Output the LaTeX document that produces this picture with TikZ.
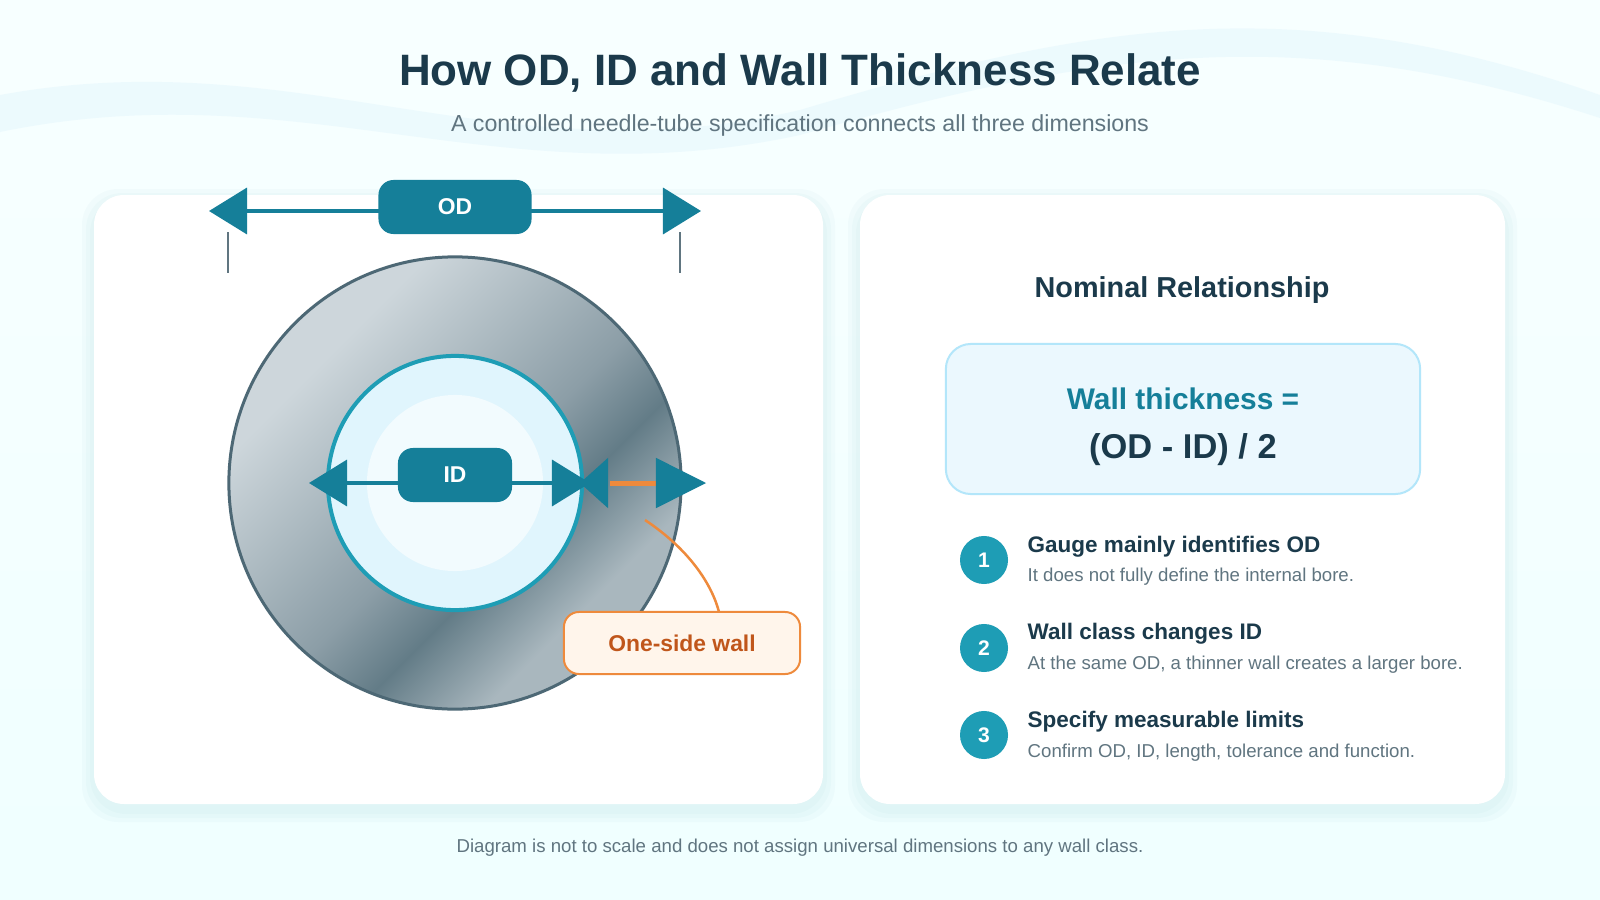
\documentclass[tikz,border=0pt]{standalone}
\usepackage{fontspec}
\setmainfont{Liberation Sans}
\usepackage{tikz}
\usetikzlibrary{positioning, arrows.meta}
\usepackage{xcolor}
\definecolor{teal}{HTML}{157F99}
\definecolor{tealc}{HTML}{1E9DB5}
\definecolor{ink}{HTML}{1B3A4B}
\definecolor{muted}{HTML}{607580}
\definecolor{orng}{HTML}{EE8A3C}
\definecolor{orngtxt}{HTML}{C0561B}
\definecolor{steel1}{HTML}{CDD6DB}
\definecolor{steel2}{HTML}{8C9EA7}
\definecolor{steel3}{HTML}{637C87}
\definecolor{steel4}{HTML}{A9B7BE}
\pgfdeclarehorizontalshading{ringshade}{100bp}{color(0bp)=(steel1); color(30bp)=(steel1); color(52bp)=(steel2); color(60bp)=(steel3); color(70bp)=(steel4); color(100bp)=(steel4)}
\tikzstyle{arrow} = [line width=0.035cm, {Triangle[length=0.38cm,width=0.46cm]}-{Triangle[length=0.38cm,width=0.46cm]}, draw=teal, fill=teal]

\begin{document}
\begin{tikzpicture}[x=0.01cm, y=-0.01cm,
    panel/.style={fill=white, rounded corners=0.3cm},
    halo/.style={fill=teal, opacity=0.025, rounded corners=0.36cm},
    tag/.style={fill=teal, rounded corners=0.15cm, text=white, font=\bfseries\fontsize{6.5}{7}\selectfont, inner sep=0},
    numdot/.style={circle, fill=tealc, text=white, minimum size=0.48cm, inner sep=0, font=\bfseries\fontsize{6}{7}\selectfont},
    head/.style={anchor=west, text=ink, font=\bfseries\fontsize{6.4}{7}\selectfont, inner sep=0},
    sub/.style={anchor=west, text=muted, font=\fontsize{5.3}{6}\selectfont, inner sep=0}
  ]
  \useasboundingbox (0,0) rectangle (1600,900);
  \fill[top color=cyan!3!white, bottom color=cyan!6!white] (0,0) rectangle (1600,900);
  \fill[cyan!10!white, opacity=0.6] (0,95) .. controls (300,40) and (500,180) .. (800,110) .. controls (1100,20) and (1300,-10) .. (1600,95) -- (1600,118) .. controls (1300,20) and (1100,50) .. (800,135) .. controls (500,200) and (300,70) .. (0,132) -- cycle;

  \node (title) at (800,73) {\bfseries\fontsize{12.5}{14}\selectfont\color{ink}How OD, ID and Wall Thickness Relate};
  \node (subtitle) at (800,125) {\fontsize{6.6}{8}\selectfont\color{muted}A controlled needle-tube specification connects all three dimensions};

  % panels
  \foreach \g in {4,8,12} {
    \path[halo] (94-\g,195-\g+6) rectangle (823+\g,804+\g+6);
    \path[halo] (860-\g,195-\g+6) rectangle (1505+\g,804+\g+6);
  }
  \path[panel] (94,195) rectangle (823,804);
  \path[panel] (860,195) rectangle (1505,804);

  % tube cross-section
  \coordinate (c) at (455,483);
  \shade[shading=ringshade, shading angle=-45, draw=steel3!70!ink, line width=0.03cm] (c) circle (2.26cm);
  \draw[fill=cyan!12!white, draw=tealc, line width=0.04cm] (c) circle (1.27cm);
  \fill[cyan!5!white] (c) circle (0.88cm);

  % OD dimension
  \draw[muted, line width=0.015cm] (228,232) -- (228,273);
  \draw[muted, line width=0.015cm] (680,232) -- (680,273);
  \coordinate (odL) at (209,211);
  \coordinate (odR) at (701,211);
  \draw[arrow] (odL) -- (odR);
  \node[tag, minimum width=1.53cm, minimum height=0.54cm] (od) at (455,207) {OD};

  % ID dimension
  \coordinate (idL) at (309,483);
  \coordinate (idR) at (590,483);
  \draw[arrow] (idL) -- (idR);
  \node[tag, minimum width=1.14cm, minimum height=0.54cm] (id) at (455,475) {ID};

  % wall
  \coordinate (wL) at (580,483);
  \coordinate (wR) at (706,483);
  \draw[orng, line width=0.05cm] (610,483) -- (660,483);
  \draw[teal, -{Triangle[length=0.28cm,width=0.5cm]}] (605,483) -- (wL);
  \draw[teal, -{Triangle[length=0.5cm,width=0.5cm]}] (660,483) -- (wR);
  \node[draw=orng, fill=orange!8!white, rounded corners=0.15cm, line width=0.02cm, minimum width=2.36cm, minimum height=0.62cm, text=orngtxt, font=\bfseries\fontsize{6.5}{7}\selectfont] (wall) at (682,643) {One-side wall};
  \coordinate (wpt) at (645,520);
  \draw[orng, line width=0.025cm] (wpt) .. controls (690,550) and (712,585) .. (719,612);

  % relationship
  \node[text=ink, font=\bfseries\fontsize{8.2}{9}\selectfont] (rel) at (1182,290) {Nominal Relationship};
  \node[draw=cyan!30!white, fill=cyan!8!white, rounded corners=0.25cm, line width=0.02cm, minimum width=4.74cm, minimum height=1.5cm] (box) at (1183,419) {};
  \node[text=teal, font=\bfseries\fontsize{8.5}{10}\selectfont] (eq1) at (1183,399) {Wall thickness =};
  \node[text=ink, font=\bfseries\fontsize{9.8}{11}\selectfont] (eq2) at (1183,450) {(OD - ID) / 2};

  \node[numdot] (s1) at (984,560) {1};
  \node[head] (h1) at (1027,547) {Gauge mainly identifies OD};
  \node[sub] (t1) at (1027,577) {It does not fully define the internal bore.};
  \node[numdot] (s2) at (984,648) {2};
  \node[head] (h2) at (1027,634) {Wall class changes ID};
  \node[sub] (t2) at (1027,665) {At the same OD, a thinner wall creates a larger bore.};
  \node[numdot] (s3) at (984,735) {3};
  \node[head] (h3) at (1027,722) {Specify measurable limits};
  \node[sub] (t3) at (1027,753) {Confirm OD, ID, length, tolerance and function.};

  \node[text=muted, font=\fontsize{5.3}{6}\selectfont] (foot) at (800,848) {Diagram is not to scale and does not assign universal dimensions to any wall class.};
\end{tikzpicture}
\end{document}
